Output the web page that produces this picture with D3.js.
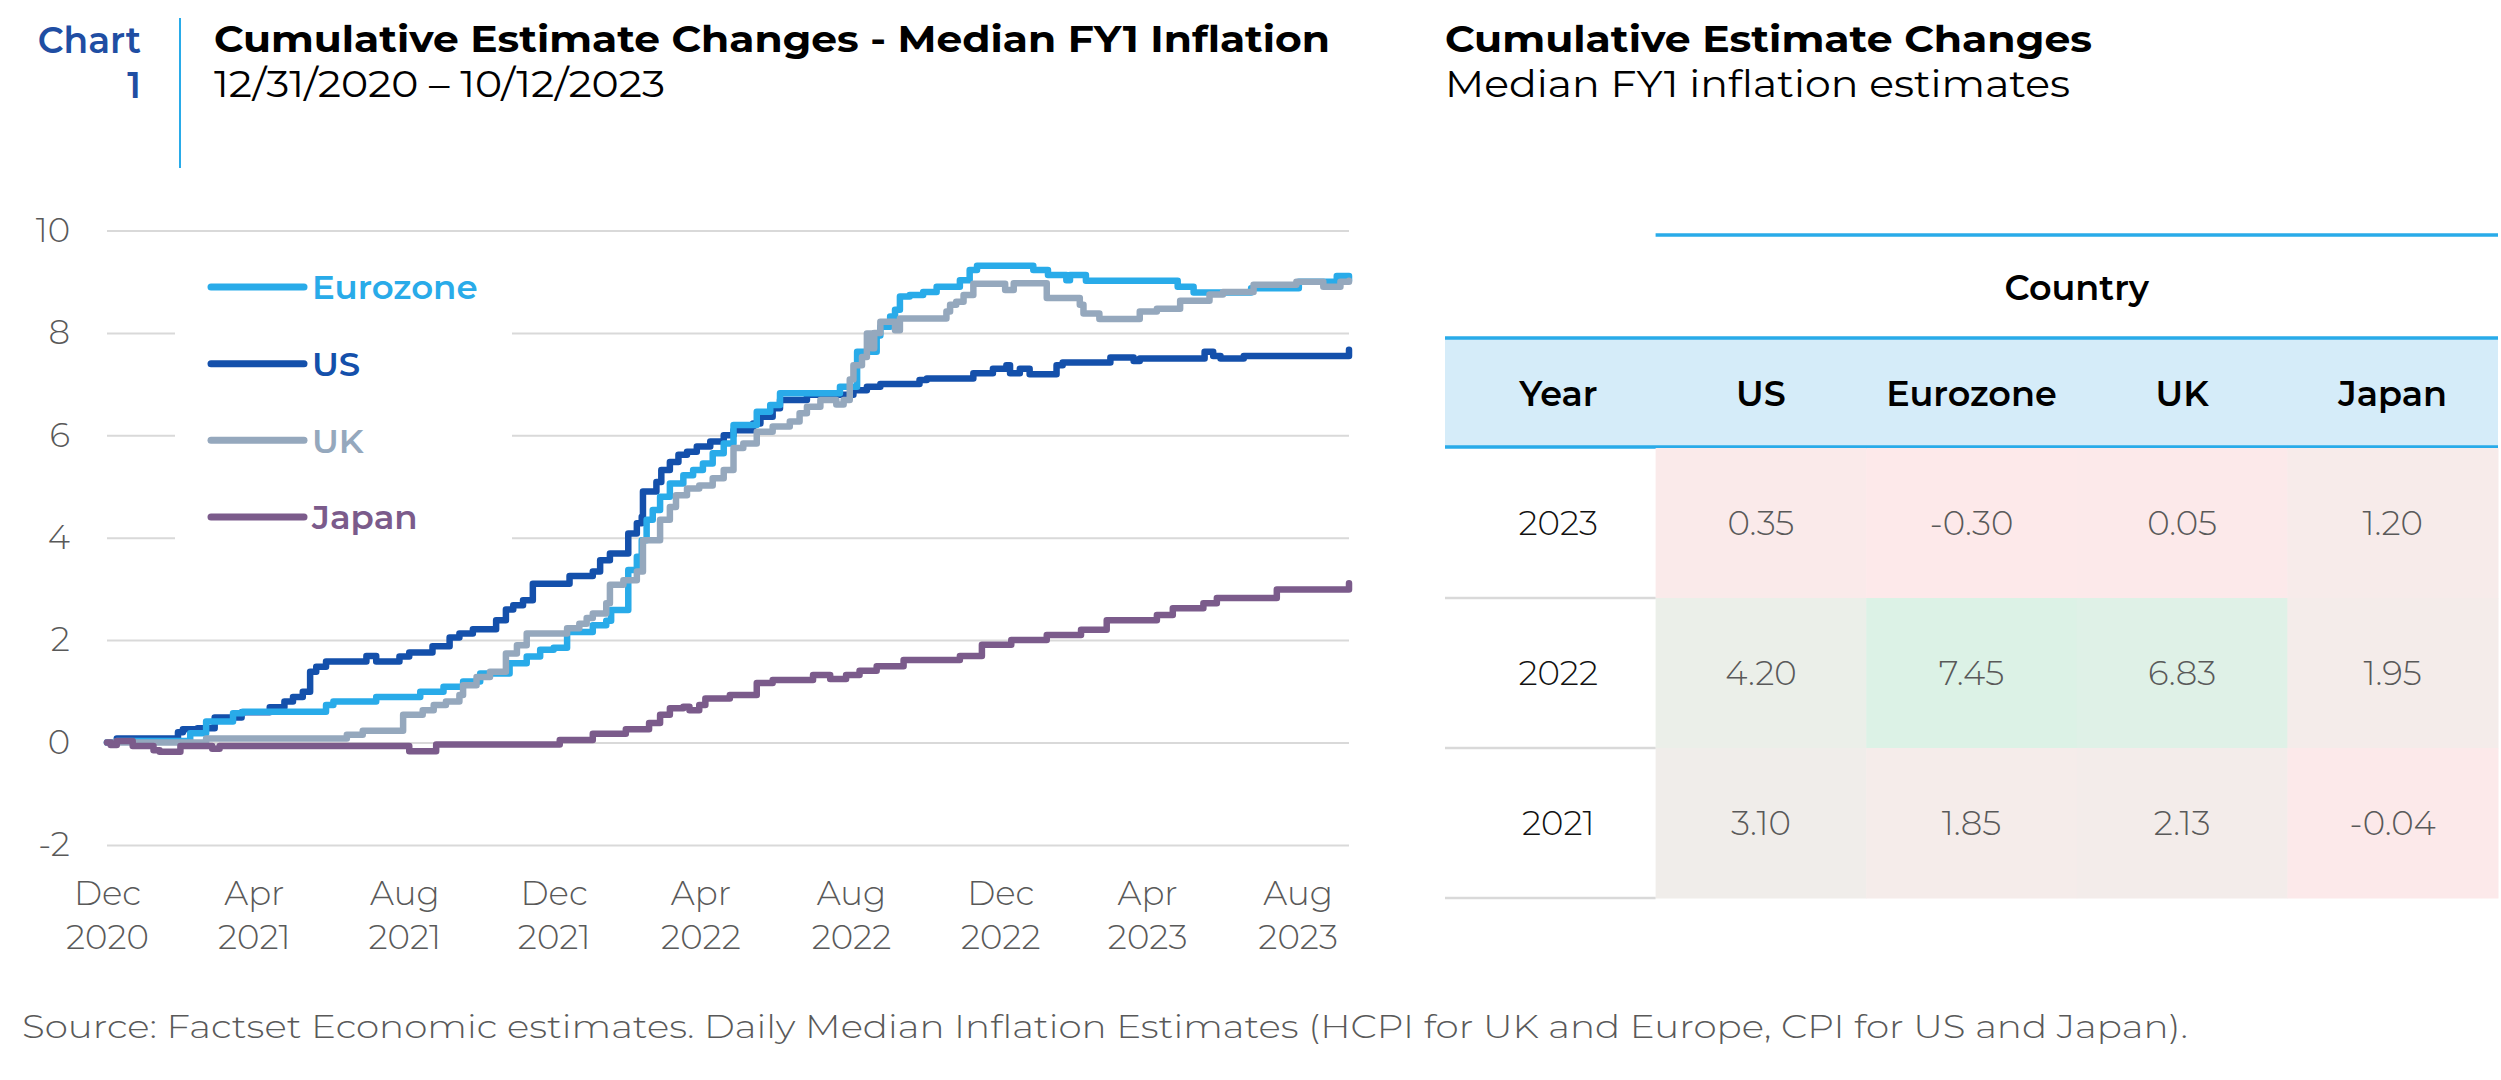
<!DOCTYPE html>
<html><head><meta charset="utf-8">
<script src="https://cdn.jsdelivr.net/npm/d3@7"></script>
<style>
body{margin:0;background:#fff}
svg{display:block}
text{font-family:Montserrat,Inter,'Open Sans',sans-serif}
</style>
</head><body>
<svg id="c" width="2501" height="1080"></svg>
<script>
// ---------------- DATA ----------------
const seriesNames = ["Eurozone", "US", "UK", "Japan"];
const startDate = "2020-12-31";
const endDate = "2023-10-12";

const eurozoneData = [
["2020-12-31",0],["2021-01-08",0.03],["2021-03-09",0.18],["2021-03-22",0.41],["2021-04-13",0.57],["2021-04-21",0.6],
["2021-06-28",0.73],["2021-07-04",0.8],["2021-08-08",0.89],["2021-09-13",0.99],["2021-10-02",1.09],["2021-10-18",1.19],
["2021-11-01",1.35],["2021-11-25",1.55],["2021-12-09",1.68],["2021-12-20",1.81],["2021-12-31",1.85],["2022-01-11",2.16],
["2022-02-01",2.29],["2022-02-12",2.38],["2022-02-16",2.59],["2022-03-02",3.37],["2022-03-09",3.63],["2022-03-13",3.95],
["2022-03-17",4.35],["2022-03-22",4.54],["2022-03-28",4.8],["2022-04-05",5.06],["2022-04-16",5.22],["2022-04-24",5.32],
["2022-05-02",5.45],["2022-05-10",5.65],["2022-05-19",5.84],["2022-05-27",6.2],["2022-06-15",6.46],["2022-06-26",6.59],
["2022-07-04",6.82],["2022-08-22",6.95],["2022-09-05",7.63],["2022-09-21",7.95],["2022-09-24",8.12],["2022-10-02",8.32],
["2022-10-06",8.45],["2022-10-10",8.71],["2022-10-18",8.74],["2022-10-29",8.8],["2022-11-09",8.9],["2022-11-28",9.03],
["2022-12-06",9.23],["2022-12-12",9.31],["2023-01-27",9.23],["2023-02-08",9.13],["2023-02-23",9.03],["2023-02-26",9.13],
["2023-03-11",9.02],["2023-05-25",8.9],["2023-06-07",8.79],["2023-07-24",8.87],["2023-09-01",9.0],["2023-10-02",9.11],
["2023-10-12",9.03]
];

const usData = [
["2020-12-31",0],["2021-01-08",0.08],["2021-02-27",0.2],["2021-03-03",0.26],["2021-03-15",0.28],["2021-03-29",0.49],
["2021-04-20",0.59],["2021-05-13",0.69],["2021-05-25",0.8],["2021-06-01",0.89],["2021-06-09",0.99],["2021-06-15",1.38],
["2021-06-20",1.48],["2021-06-28",1.58],["2021-07-31",1.69],["2021-08-08",1.58],["2021-08-27",1.68],["2021-09-04",1.76],
["2021-09-23",1.88],["2021-10-07",2.05],["2021-10-15",2.13],["2021-10-26",2.21],["2021-11-14",2.39],["2021-11-22",2.6],
["2021-11-28",2.68],["2021-12-06",2.78],["2021-12-14",3.1],["2022-01-13",3.25],["2022-02-01",3.34],["2022-02-07",3.56],
["2022-02-15",3.69],["2022-03-02",4.08],["2022-03-09",4.28],["2022-03-13",4.41],["2022-03-14",4.9],["2022-03-25",5.09],
["2022-03-29",5.32],["2022-04-05",5.48],["2022-04-12",5.62],["2022-04-19",5.68],["2022-04-27",5.78],["2022-05-08",5.88],
["2022-05-19",6.0],["2022-05-27",6.1],["2022-06-12",6.23],["2022-06-18",6.36],["2022-06-28",6.53],["2022-07-04",6.69],
["2022-07-26",6.79],["2022-09-02",6.88],["2022-09-13",6.95],["2022-09-24",7.0],["2022-10-26",7.08],["2022-11-01",7.11],
["2022-12-09",7.21],["2022-12-25",7.3],["2023-01-05",7.37],["2023-01-08",7.21],["2023-01-16",7.3],["2023-01-24",7.19],
["2023-02-15",7.37],["2023-02-20",7.42],["2023-03-31",7.52],["2023-04-19",7.45],["2023-04-24",7.5],["2023-06-16",7.63],
["2023-06-23",7.55],["2023-06-29",7.5],["2023-07-18",7.55],["2023-10-10",7.55],["2023-10-12",7.67]
];

const ukData = [
["2020-12-31",0],["2021-03-22",0.08],["2021-07-15",0.15],["2021-07-28",0.23],["2021-08-30",0.54],["2021-09-15",0.63],
["2021-09-24",0.73],["2021-10-04",0.8],["2021-10-15",0.93],["2021-10-18",1.12],["2021-10-29",1.28],["2021-11-09",1.38],
["2021-11-22",1.74],["2021-12-01",1.9],["2021-12-09",2.13],["2022-01-11",2.23],["2022-01-21",2.32],["2022-01-27",2.43],
["2022-02-01",2.52],["2022-02-12",2.72],["2022-02-15",3.08],["2022-02-26",3.17],["2022-03-09",3.34],["2022-03-14",3.95],
["2022-03-28",4.35],["2022-04-05",4.6],["2022-04-10",4.83],["2022-04-19",4.96],["2022-04-29",5.02],["2022-05-10",5.16],
["2022-05-19",5.32],["2022-05-27",5.75],["2022-06-04",5.84],["2022-06-15",6.07],["2022-06-28",6.17],["2022-07-12",6.27],
["2022-07-20",6.43],["2022-07-26",6.56],["2022-08-06",6.69],["2022-08-19",6.6],["2022-08-25",6.69],["2022-08-30",7.09],
["2022-09-02",7.37],["2022-09-09",7.53],["2022-09-13",7.99],["2022-09-17",7.7],["2022-09-19",8.0],["2022-09-24",8.22],
["2022-10-06",8.05],["2022-10-10",8.28],["2022-11-17",8.42],["2022-11-20",8.55],["2022-11-25",8.61],["2022-12-01",8.74],
["2022-12-09",8.96],["2023-01-04",8.84],["2023-01-11",8.97],["2023-02-07",8.68],["2023-03-06",8.55],["2023-03-09",8.38],
["2023-03-22",8.27],["2023-04-24",8.42],["2023-05-08",8.47],["2023-05-27",8.63],["2023-06-20",8.75],["2023-07-01",8.8],
["2023-07-26",8.94],["2023-08-30",9.0],["2023-09-21",8.9],["2023-10-05",9.0],["2023-10-12",9.02]
];

const japanData = [
["2020-12-31",0],["2021-01-03",-0.05],["2021-01-08",0.03],["2021-01-21",-0.07],["2021-02-07",-0.15],["2021-02-12",-0.18],
["2021-03-01",-0.07],["2021-03-27",-0.12],["2021-04-02",-0.07],["2021-09-04",-0.17],["2021-09-26",-0.04],["2022-01-05",0.05],
["2022-02-01",0.17],["2022-02-28",0.26],["2022-03-19",0.38],["2022-03-28",0.54],["2022-04-05",0.67],["2022-04-16",0.7],
["2022-04-21",0.63],["2022-04-29",0.73],["2022-05-04",0.86],["2022-05-24",0.93],["2022-06-15",1.16],["2022-06-28",1.22],
["2022-07-31",1.32],["2022-08-14",1.24],["2022-08-27",1.32],["2022-09-07",1.4],["2022-09-21",1.49],["2022-10-13",1.61],
["2022-11-28",1.69],["2022-12-16",1.91],["2023-01-09",2.0],["2023-02-07",2.1],["2023-03-07",2.2],["2023-03-28",2.39],
["2023-05-08",2.49],["2023-05-21",2.62],["2023-06-15",2.72],["2023-06-26",2.82],["2023-08-14",2.99],["2023-10-10",2.99],
["2023-10-12",3.11]
];

const yTicks = [-2, 0, 2, 4, 6, 8, 10];
const xTickDates = ["2020-12-31","2021-04-30","2021-08-31","2021-12-31","2022-04-30","2022-08-31","2022-12-31","2023-04-30","2023-08-31"];
const xTickMonths = ["Dec","Apr","Aug","Dec","Apr","Aug","Dec","Apr","Aug"];
const xTickYears = ["2020","2021","2021","2021","2022","2022","2022","2023","2023"];

const tableYears = ["2023", "2022", "2021"];
const tableCountries = ["US", "Eurozone", "UK", "Japan"];
const tableValues = [
  [0.35, -0.30, 0.05, 1.20],
  [4.20, 7.45, 6.83, 1.95],
  [3.10, 1.85, 2.13, -0.04]
];

// ---------------- STYLE ----------------
const colors = {Eurozone:"#29abe9", US:"#1450ab", UK:"#95a8bd", Japan:"#7b5b8b"};
const accent = "#29abe9";
const textGray = "#595959";
const W = 2501, H = 1080;

const svg = d3.select("#c");
svg.append("rect").attr("width",W).attr("height",H).attr("fill","#fff");

function fit(sel, w){
  const L = sel.node().getComputedTextLength();
  if (L > 0 && Math.abs(L - w) / w > 0.01) sel.attr("textLength", w).attr("lengthAdjust", "spacingAndGlyphs");
}

// ---------------- HEADER ----------------
svg.append("line").attr("x1",180).attr("x2",180).attr("y1",18).attr("y2",168).attr("stroke",accent).attr("stroke-width",2);
svg.append("text").attr("x",141).attr("y",53).attr("text-anchor","end").attr("font-size",36).attr("font-weight",600).attr("fill","#1f4ea3").text("Chart");
svg.append("text").attr("x",141).attr("y",98).attr("text-anchor","end").attr("font-size",36).attr("font-weight",600).attr("fill","#1f4ea3").text("1");
const t1 = svg.append("text").attr("x",214).attr("y",52).attr("font-size",37).attr("font-weight",700).attr("fill","#000").text("Cumulative Estimate Changes - Median FY1 Inflation");
fit(t1, 1116);
const t2 = svg.append("text").attr("x",214).attr("y",97).attr("font-size",37).attr("font-weight",400).attr("fill","#000").text("12/31/2020 \u2013 10/12/2023");
fit(t2, 451);
const t3 = svg.append("text").attr("x",1445).attr("y",52).attr("font-size",37).attr("font-weight",700).attr("fill","#000").text("Cumulative Estimate Changes");
fit(t3, 647);
const t4 = svg.append("text").attr("x",1445).attr("y",97).attr("font-size",37).attr("font-weight",400).attr("fill","#000").text("Median FY1 inflation estimates");
fit(t4, 625);

// ---------------- CHART ----------------
const parse = d3.timeParse("%Y-%m-%d");
const x = d3.scaleTime().domain([parse(startDate), parse(endDate)]).range([107, 1349]);
const y = d3.scaleLinear().domain([-2, 10]).range([844.9, 230.5]);

const gy = svg.append("g").attr("transform","translate(107,0)")
  .call(d3.axisLeft(y).tickValues(yTicks).tickSize(-(1349-107)).tickPadding(37).tickFormat(d => String(d)));
gy.select(".domain").remove();
gy.selectAll(".tick line").attr("stroke","#d9d9d9").attr("stroke-width",2);
gy.selectAll(".tick text").attr("font-size",34).attr("font-weight",300).attr("fill",textGray)
  .style("font-family","Montserrat,Inter,'Open Sans',sans-serif");

const gx = svg.append("g")
  .call(d3.axisBottom(x).tickValues(xTickDates.map(parse)).tickSize(0).tickFormat(""));
gx.select(".domain").remove();
gx.selectAll(".tick text").each(function(d, i){
  const t = d3.select(this);
  t.text(null).attr("dy", null).attr("y", null)
   .attr("font-size",34).attr("font-weight",300).attr("fill",textGray)
   .style("font-family","Montserrat,Inter,'Open Sans',sans-serif");
  t.append("tspan").attr("x",0).attr("y",905).text(xTickMonths[i]);
  t.append("tspan").attr("x",0).attr("y",949).text(xTickYears[i]);
});

// legend backdrop
svg.append("rect").attr("x",175).attr("y",252).attr("width",337).attr("height",333).attr("fill","#fff");

const series = [
  {name:"US", data:usData},
  {name:"Eurozone", data:eurozoneData},
  {name:"UK", data:ukData},
  {name:"Japan", data:japanData}
];
const line = d3.line().curve(d3.curveStepAfter).x(d => x(parse(d[0]))).y(d => y(d[1]));
svg.append("g").selectAll("path").data(series).join("path")
  .attr("d", s => line(s.data))
  .attr("fill","none").attr("stroke", s => colors[s.name]).attr("stroke-width",6.5)
  .attr("stroke-linejoin","round").attr("stroke-linecap","round");

// legend
const legY = d3.scalePoint().domain(seriesNames).range([287, 517]);
const leg = svg.append("g").selectAll("g").data(seriesNames).join("g")
  .attr("transform", d => `translate(0,${legY(d)})`);
leg.append("line").attr("x1",211).attr("x2",304).attr("stroke", d => colors[d]).attr("stroke-width",7).attr("stroke-linecap","round");
leg.append("text").attr("x",312).attr("dy","0.36em").attr("font-size",34).attr("font-weight",600)
  .attr("fill", d => colors[d]).text(d => d);

// ---------------- TABLE ----------------
const colScale = d3.scaleBand().domain(["Year"].concat(tableCountries)).range([1445, 2498]);
const rowScale = d3.scaleBand().domain(tableYears).range([448, 898]);
const heat = d3.scaleLinear().domain([-0.3, 3.5, 7.45]).range(["#fde9ea", "#eeeeea", "#dcf2e6"]);

svg.append("line").attr("x1", colScale("US")).attr("x2",2498).attr("y1",235).attr("y2",235).attr("stroke",accent).attr("stroke-width",3.5);
svg.append("text").attr("x",(colScale("US")+2498)/2).attr("y",300).attr("text-anchor","middle")
  .attr("font-size",35).attr("font-weight",600).attr("fill","#000").text("Country");
svg.append("rect").attr("x",1445).attr("y",338).attr("width",2498-1445).attr("height",110).attr("fill","#d5ecf9");
svg.append("line").attr("x1",1445).attr("x2",2498).attr("y1",338).attr("y2",338).attr("stroke",accent).attr("stroke-width",3.5);
svg.append("line").attr("x1",1445).attr("x2",2498).attr("y1",447).attr("y2",447).attr("stroke",accent).attr("stroke-width",3.5);
svg.append("g").selectAll("text").data(["Year"].concat(tableCountries)).join("text")
  .attr("x", d => colScale(d) + colScale.bandwidth()/2 + (d === "Year" ? 8 : 0)).attr("y",406).attr("text-anchor","middle")
  .attr("font-size",35).attr("font-weight",600).attr("fill","#000").text(d => d);

const cells = [];
tableYears.forEach((yr, i) => tableCountries.forEach((c, j) => cells.push({yr, c, v: tableValues[i][j]})));
svg.append("g").selectAll("rect").data(cells).join("rect")
  .attr("x", d => colScale(d.c)).attr("y", d => rowScale(d.yr))
  .attr("width", colScale.bandwidth() + 0.5).attr("height", rowScale.bandwidth() + 0.5)
  .attr("fill", d => heat(d.v));
svg.append("g").selectAll("text").data(cells).join("text")
  .attr("x", d => colScale(d.c) + colScale.bandwidth()/2).attr("y", d => rowScale(d.yr) + rowScale.bandwidth()/2 + 12)
  .attr("text-anchor","middle").attr("font-size",34).attr("font-weight",300).attr("fill",textGray)
  .text(d => d3.format(".2f")(d.v).replace("\u2212","-"));
svg.append("g").selectAll("text").data(tableYears).join("text")
  .attr("x", colScale("Year") + colScale.bandwidth()/2 + 8).attr("y", d => rowScale(d) + rowScale.bandwidth()/2 + 12)
  .attr("text-anchor","middle").attr("font-size",34).attr("font-weight",300).attr("fill","#111").text(d => d);
svg.append("g").selectAll("line").data(tableYears).join("line")
  .attr("x1",1445).attr("x2",colScale("US")).attr("y1", d => rowScale(d) + rowScale.bandwidth()).attr("y2", d => rowScale(d) + rowScale.bandwidth())
  .attr("stroke","#d9d9d9").attr("stroke-width",2.5);

// ---------------- FOOTER ----------------
const ft = svg.append("text").attr("x",22).attr("y",1038).attr("font-size",33).attr("font-weight",300).attr("fill",textGray)
  .text("Source: Factset Economic estimates. Daily Median Inflation Estimates (HCPI for UK and Europe, CPI for US and Japan).");
fit(ft, 2166);
</script>
</body></html>
